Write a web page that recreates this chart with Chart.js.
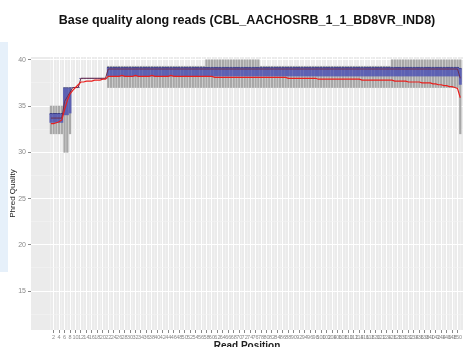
<!DOCTYPE html>
<html>
<head>
<meta charset="utf-8">
<script src="https://cdn.jsdelivr.net/npm/chart.js@4"></script>
<style>
  html, body { margin: 0; padding: 0; background: #fff; overflow: hidden; }
  #wrap { position: relative; width: 467px; height: 352px; }
  #strip { position: absolute; left: 0; top: 42px; width: 8px; height: 230px; background: #e6f0fa; }
</style>
</head>
<body>
<div id="wrap">
  <div id="strip"></div>
  <canvas id="myChart" width="467" height="352"></canvas>
</div>
<script>
const titleText = 'Base quality along reads (CBL_AACHOSRB_1_1_BD8VR_IND8)';
const yTicks = [12.5, 15, 17.5, 20, 22.5, 25, 27.5, 30, 32.5, 35, 37.5, 40];

// per read position: lower whisker, q1, median, q3, upper whisker, mean
const lower = [
  32, 32, 32, 32, 32, 30, 30, 32, 37, 37,
  37, 38, 38, 38, 38, 38, 38, 38, 38, 38,
  38, 37, 37, 37, 37, 37, 37, 37, 37, 37,
  37, 37, 37, 37, 37, 37, 37, 37, 37, 37,
  37, 37, 37, 37, 37, 37, 37, 37, 37, 37,
  37, 37, 37, 37, 37, 37, 37, 37, 37, 37,
  37, 37, 37, 37, 37, 37, 37, 37, 37, 37,
  37, 37, 37, 37, 37, 37, 37, 37, 37, 37,
  37, 37, 37, 37, 37, 37, 37, 37, 37, 37,
  37, 37, 37, 37, 37, 37, 37, 37, 37, 37,
  37, 37, 37, 37, 37, 37, 37, 37, 37, 37,
  37, 37, 37, 37, 37, 37, 37, 37, 37, 37,
  37, 37, 37, 37, 37, 37, 37, 37, 37, 37,
  37, 37, 37, 37, 37, 37, 37, 37, 37, 37,
  37, 37, 37, 37, 37, 37, 37, 37, 37, 37,
  32
];
const q1 = [
  33.2, 33.2, 33.2, 33.2, 33.2, 34, 34, 34.2, 37, 37,
  37, 38, 38, 38, 38, 38, 38, 38, 38, 38,
  38, 38.2, 38.2, 38.2, 38.2, 38.2, 38.2, 38.2, 38.2, 38.2,
  38.2, 38.2, 38.2, 38.2, 38.2, 38.2, 38.2, 38.2, 38.2, 38.2,
  38.2, 38.2, 38.2, 38.2, 38.2, 38.2, 38.2, 38.2, 38.2, 38.2,
  38.2, 38.2, 38.2, 38.2, 38.2, 38.2, 38.2, 38.2, 38.2, 38.2,
  38.2, 38.2, 38.2, 38.2, 38.2, 38.2, 38.2, 38.2, 38.2, 38.2,
  38.2, 38.2, 38.2, 38.2, 38.2, 38.2, 38.2, 38.2, 38.2, 38.2,
  38.2, 38.2, 38.2, 38.2, 38.2, 38.2, 38.2, 38.2, 38.2, 38.2,
  38.2, 38.2, 38.2, 38.2, 38.2, 38.2, 38.2, 38.2, 38.2, 38.2,
  38.2, 38.2, 38.2, 38.2, 38.2, 38.2, 38.2, 38.2, 38.2, 38.2,
  38.2, 38.2, 38.2, 38.2, 38.2, 38.2, 38.2, 38.2, 38.2, 38.2,
  38.2, 38.2, 38.2, 38.2, 38.2, 38.2, 38.2, 38.2, 38.2, 38.2,
  38.2, 38.2, 38.2, 38.2, 38.2, 38.2, 38.2, 38.2, 38.2, 38.2,
  38.2, 38.2, 38.2, 38.2, 38.2, 38.2, 38.2, 38.2, 38.2, 38.2,
  37.3
];
const median = [
  33.7, 33.7, 33.7, 33.7, 33.7, 35.5, 36, 36.5, 37, 37,
  37, 38, 38, 38, 38, 38, 38, 38, 38, 38,
  38, 39, 39, 39, 39, 39, 39, 39, 39, 39,
  39, 39, 39, 39, 39, 39, 39, 39, 39, 39,
  39, 39, 39, 39, 39, 39, 39, 39, 39, 39,
  39, 39, 39, 39, 39, 39, 39, 39, 39, 39,
  39, 39, 39, 39, 39, 39, 39, 39, 39, 39,
  39, 39, 39, 39, 39, 39, 39, 39, 39, 39,
  39, 39, 39, 39, 39, 39, 39, 39, 39, 39,
  39, 39, 39, 39, 39, 39, 39, 39, 39, 39,
  39, 39, 39, 39, 39, 39, 39, 39, 39, 39,
  39, 39, 39, 39, 39, 39, 39, 39, 39, 39,
  39, 39, 39, 39, 39, 39, 39, 39, 39, 39,
  39, 39, 39, 39, 39, 39, 39, 39, 39, 39,
  39, 39, 39, 39, 39, 39, 39, 39, 39, 39,
  38
];
const q3 = [
  34.2, 34.2, 34.2, 34.2, 34.2, 37, 37, 37, 37, 37,
  37, 38, 38, 38, 38, 38, 38, 38, 38, 38,
  38, 39.2, 39.2, 39.2, 39.2, 39.2, 39.2, 39.2, 39.2, 39.2,
  39.2, 39.2, 39.2, 39.2, 39.2, 39.2, 39.2, 39.2, 39.2, 39.2,
  39.2, 39.2, 39.2, 39.2, 39.2, 39.2, 39.2, 39.2, 39.2, 39.2,
  39.2, 39.2, 39.2, 39.2, 39.2, 39.2, 39.2, 39.2, 39.2, 39.2,
  39.2, 39.2, 39.2, 39.2, 39.2, 39.2, 39.2, 39.2, 39.2, 39.2,
  39.2, 39.2, 39.2, 39.2, 39.2, 39.2, 39.2, 39.2, 39.2, 39.2,
  39.2, 39.2, 39.2, 39.2, 39.2, 39.2, 39.2, 39.2, 39.2, 39.2,
  39.2, 39.2, 39.2, 39.2, 39.2, 39.2, 39.2, 39.2, 39.2, 39.2,
  39.2, 39.2, 39.2, 39.2, 39.2, 39.2, 39.2, 39.2, 39.2, 39.2,
  39.2, 39.2, 39.2, 39.2, 39.2, 39.2, 39.2, 39.2, 39.2, 39.2,
  39.2, 39.2, 39.2, 39.2, 39.2, 39.2, 39.2, 39.2, 39.2, 39.2,
  39.2, 39.2, 39.2, 39.2, 39.2, 39.2, 39.2, 39.2, 39.2, 39.2,
  39.2, 39.2, 39.2, 39.2, 39.2, 39.2, 39.2, 39.2, 39.2, 39.2,
  39.1
];
const upper = [
  35, 35, 35, 35, 35, 37, 37, 37, 37, 37,
  37, 38, 38, 38, 38, 38, 38, 38, 38, 38,
  38, 39.3, 39.3, 39.3, 39.3, 39.3, 39.3, 39.3, 39.3, 39.3,
  39.3, 39.3, 39.3, 39.3, 39.3, 39.3, 39.3, 39.3, 39.3, 39.3,
  39.3, 39.3, 39.3, 39.3, 39.3, 39.3, 39.3, 39.3, 39.3, 39.3,
  39.3, 39.3, 39.3, 39.3, 39.3, 39.3, 39.3, 40, 40, 40,
  40, 40, 40, 40, 40, 40, 40, 40, 40, 40,
  40, 40, 40, 40, 40, 40, 40, 39.3, 39.3, 39.3,
  39.3, 39.3, 39.3, 39.3, 39.3, 39.3, 39.3, 39.3, 39.3, 39.3,
  39.3, 39.3, 39.3, 39.3, 39.3, 39.3, 39.3, 39.3, 39.3, 39.3,
  39.3, 39.3, 39.3, 39.3, 39.3, 39.3, 39.3, 39.3, 39.3, 39.3,
  39.3, 39.3, 39.3, 39.3, 39.3, 39.3, 39.3, 39.3, 39.3, 39.3,
  39.3, 39.3, 39.3, 39.3, 39.3, 40, 40, 40, 40, 40,
  40, 40, 40, 40, 40, 40, 40, 40, 40, 40,
  40, 40, 40, 40, 40, 40, 40, 40, 40, 40,
  40
];
const mean = [
  33.1, 33.1, 33.2, 33.3, 33.5, 34.6, 35.6, 36.3, 36.7, 37.0,
  37.3, 37.6, 37.6, 37.7, 37.7, 37.7, 37.8, 37.8, 37.8, 37.9,
  37.9, 38.2, 38.2, 38.2, 38.2, 38.2, 38.3, 38.2, 38.2, 38.2,
  38.2, 38.3, 38.2, 38.2, 38.2, 38.2, 38.2, 38.3, 38.2, 38.2,
  38.2, 38.2, 38.2, 38.2, 38.3, 38.2, 38.2, 38.2, 38.2, 38.2,
  38.2, 38.2, 38.2, 38.2, 38.2, 38.2, 38.2, 38.2, 38.2, 38.2,
  38.1, 38.1, 38.1, 38.1, 38.1, 38.1, 38.1, 38.1, 38.1, 38.1,
  38.1, 38.1, 38.1, 38.1, 38.1, 38.1, 38.1, 38.1, 38.1, 38.1,
  38.1, 38.1, 38.1, 38.1, 38.1, 38.1, 38.1, 38.0, 38.0, 38.0,
  38.0, 38.0, 38.0, 38.0, 38.0, 38.0, 38.0, 38.0, 37.9, 37.9,
  37.9, 37.9, 37.9, 37.9, 37.9, 37.9, 37.9, 37.9, 37.9, 37.9,
  37.9, 37.9, 37.9, 37.9, 37.8, 37.8, 37.8, 37.8, 37.8, 37.8,
  37.8, 37.8, 37.8, 37.8, 37.8, 37.8, 37.7, 37.7, 37.7, 37.7,
  37.7, 37.6, 37.6, 37.6, 37.6, 37.6, 37.5, 37.5, 37.5, 37.5,
  37.4, 37.4, 37.3, 37.3, 37.2, 37.2, 37.1, 37.1, 37.0, 36.9,
  35.9
];
const positions = mean.map((v, i) => i + 1);

const whiskerData = positions.map((p, i) => ({ x: p, y: [lower[i], upper[i]] }));
const boxData = positions.map((p, i) => ({ x: p, y: [q1[i], q3[i]] }));
const medianData = positions.map((p, i) => ({ x: p, y: median[i] }));
const meanData = positions.map((p, i) => ({ x: p, y: mean[i] }));

const panelPlugin = {
    id: 'panel',
    beforeDraw(chart) {
        const { ctx, chartArea: a } = chart;
        ctx.save();
        ctx.fillStyle = '#ebebeb';
        ctx.fillRect(a.left, a.top, a.right - a.left, a.bottom - a.top);
        ctx.restore();
    },
    afterDraw(chart) {
        const ctx = chart.ctx;
        ctx.save();
        ctx.textAlign = 'center';
        ctx.textBaseline = 'middle';
        ctx.fillStyle = '#111';
        ctx.font = 'bold 12.5px "Liberation Sans", Arial, sans-serif';
        ctx.fillText(titleText, 247, 21);
        ctx.fillStyle = '#666';
        ctx.font = 'bold 9px "Liberation Sans", Arial, sans-serif';
        ctx.fillText('Read Position', 246, -2);
        ctx.restore();
    }
};

const ctx = document.querySelector('#myChart');

const myChart = new Chart(ctx, {
    type: 'bar',
    data: {
        datasets: [{
            label: 'whisker',
            data: whiskerData,
            backgroundColor: '#a8a8a8',
            borderColor: '#777777',
            borderWidth: 0,
            barThickness: 1.6,
            grouped: false,
            order: 4
        },
        {
            label: 'box',
            data: boxData,
            backgroundColor: '#5d61b3',
            borderColor: '#3c3f85',
            borderWidth: { top: 1, bottom: 0, left: 0, right: 0 },
            borderSkipped: false,
            barThickness: 3,
            grouped: false,
            order: 3
        },
        {
            type: 'line',
            label: 'median',
            data: medianData,
            borderColor: '#6e2d4a',
            borderWidth: 1,
            pointRadius: 0,
            tension: 0,
            order: 2
        },
        {
            type: 'line',
            label: 'mean',
            data: meanData,
            borderColor: '#e8201e',
            borderWidth: 1.2,
            pointRadius: 0,
            tension: 0,
            order: 1
        }]
    },
    options: {
        responsive: false,
        animation: false,
        layout: { padding: { top: 57, right: 4, left: 0, bottom: 0 } },
        plugins: {
            legend: { display: false },
            tooltip: { enabled: false }
        },
        scales: {
            x: {
                type: 'linear',
                min: -6.3,
                max: 152,
                offset: false,
                afterFit: s => { s.height = 22; },
                afterBuildTicks: s => { s.ticks = positions.map(v => ({ value: v })); },
                grid: {
                    offset: false,
                    color: c => (c.tick && c.tick.value % 2 === 0) ? '#ffffff' : '#f4f4f4',
                    lineWidth: c => (c.tick && c.tick.value % 2 === 0) ? 1 : 0.6,
                    tickColor: c => (c.tick && c.tick.value % 2 === 0) ? '#888888' : 'rgba(0,0,0,0)',
                    tickLength: 3
                },
                border: { display: false },
                ticks: {
                    autoSkip: false,
                    maxRotation: 0,
                    minRotation: 0,
                    padding: 1,
                    color: '#8a8a8a',
                    font: { size: 5.5, family: 'Liberation Sans' },
                    callback: v => v % 2 === 0 ? String(v) : ''
                },
                title: {
                    display: true,
                    text: 'Read Position',
                    color: '#222',
                    font: { size: 10, weight: 'bold', family: 'Liberation Sans' },
                    padding: { top: 0, bottom: 0 }
                }
            },
            y: {
                min: 10.8,
                max: 40.3,
                afterFit: s => { s.width = 31; },
                afterBuildTicks: s => { s.ticks = yTicks.map(v => ({ value: v })); },
                grid: {
                    color: c => (c.tick && c.tick.value % 5 === 0) ? '#ffffff' : '#f4f4f4',
                    lineWidth: c => (c.tick && c.tick.value % 5 === 0) ? 1 : 0.6,
                    tickColor: c => (c.tick && c.tick.value % 5 === 0) ? '#888888' : 'rgba(0,0,0,0)',
                    tickLength: 3
                },
                border: { display: false },
                ticks: {
                    padding: 2,
                    color: '#8a8a8a',
                    font: { size: 7, family: 'Liberation Sans' },
                    callback: v => v % 5 === 0 ? String(v) : ''
                },
                title: {
                    display: true,
                    text: 'Phred Quality',
                    color: '#222',
                    font: { size: 8, family: 'Liberation Sans' },
                    padding: { top: 8, bottom: 0 }
                }
            }
        }
    },
    plugins: [panelPlugin]
});
</script>
</body>
</html>
